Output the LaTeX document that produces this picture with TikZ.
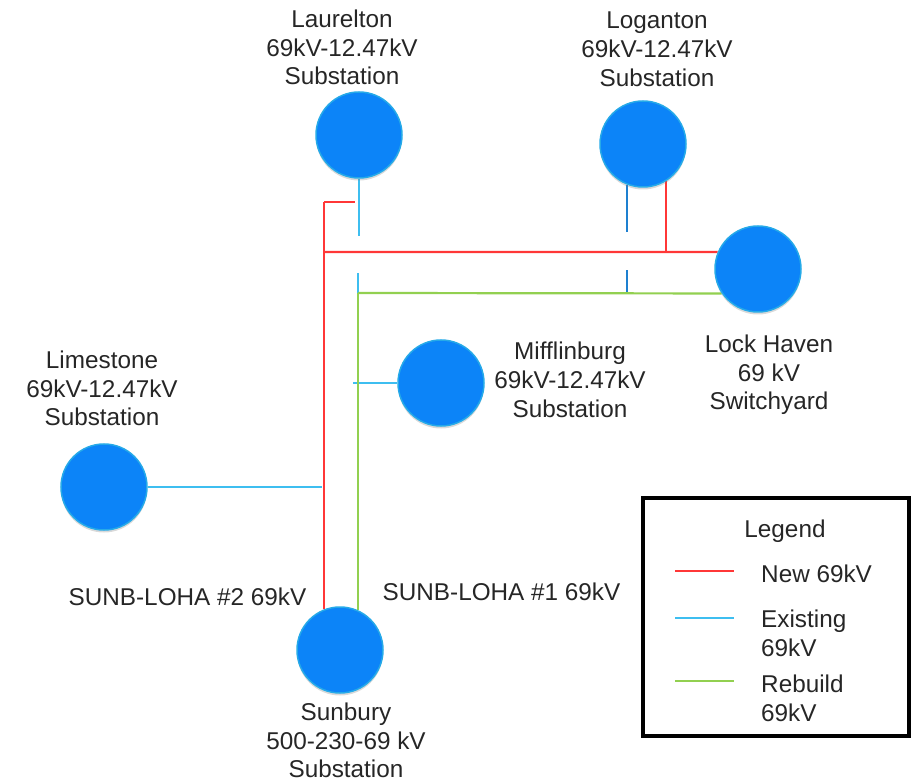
\documentclass[tikz,border=0pt]{standalone}
\usepackage{fontspec}
\setmainfont{Liberation Sans}
\usetikzlibrary{backgrounds,shadows}

\definecolor{subfill}{RGB}{12,132,248}
\definecolor{subedge}{RGB}{38,170,232}
\definecolor{newred}{RGB}{255,55,55}
\definecolor{oldblue}{RGB}{62,190,240}
\definecolor{olddark}{RGB}{30,128,208}
\definecolor{rebuildgreen}{RGB}{146,208,80}
\definecolor{labelgray}{RGB}{38,38,38}

\begin{document}
\begin{tikzpicture}[x=1pt, y=-1pt,
    every node/.style={inner sep=0pt, text=labelgray,
      font=\fontsize{24.3}{28.8}\selectfont},
    sub/.style={circle, minimum size=86pt, fill=subfill, draw=subedge,
      line width=1.5pt,
      drop shadow={shadow xshift=0pt, shadow yshift=-2.5pt, opacity=0.3}},
    sublabel/.style={align=center, anchor=north},
    newline/.style={draw=newred, line width=2.2pt},
    oldline/.style={draw=oldblue, line width=2.2pt},
    rebuildline/.style={draw=rebuildgreen, line width=2.2pt}]
  \useasboundingbox (0,0) rectangle (913,783);

  % substations
  \node[sub] (laur)  at (359,135) {};
  \node[sub] (logan) at (643,144) {};
  \node[sub] (lock)  at (758,269) {};
  \node[sub] (miff)  at (441,383) {};
  \node[sub] (lime)  at (104,487) {};
  \node[sub] (sun)   at (340,650) {};

  % junction points
  \coordinate (rtop) at (324,202);
  \coordinate (rj)   at (324,252);
  \coordinate (gj)   at (358,293);
  \coordinate (lgj)  at (627,293);

  \begin{scope}[on background layer]
    % new 69kV
    \draw[newline] (rtop) -- ++(31,0);
    \draw[newline] (rtop) -- (rtop |- sun.112);
    \draw[newline] (rj) -- (lock.157);
    \draw[newline] (logan.-58) -- (logan.-58 |- rj);
    % existing 69kV
    \draw[oldline] (laur.south) -- ++(0,57);
    \draw[oldline] (gj) -- ++(0,-20);
    \draw[oldline] (miff.west) -- ++(-44,0);
    \draw[oldline] (lime.east) -- ++(174,0);
    \draw[oldline, draw=olddark] (logan.248) -- ++(0,47);
    \draw[oldline, draw=olddark] (lgj) -- ++(0,-23);
    % rebuild 69kV
    \draw[rebuildline] (gj) -- (lock.214);
    \draw[rebuildline] (gj) -- (gj |- sun.65);
  \end{scope}

  % labels
  \node[sublabel] (laurtxt)  at (342,9.5)   {Laurelton\\69kV-12.47kV\\Substation};
  \node[sublabel] (logantxt) at (657,11.5)  {Loganton\\69kV-12.47kV\\Substation};
  \node[sublabel] (locktxt)  at (769,334.5) {Lock Haven\\69 kV\\Switchyard};
  \node[sublabel] (mifftxt)  at (570,342)   {Mifflinburg\\69kV-12.47kV\\Substation};
  \node[sublabel] (limetxt)  at (102,350.5) {Limestone\\69kV-12.47kV\\Substation};
  \node[sublabel] (suntxt)   at (346,702.5) {Sunbury\\500-230-69 kV\\Substation};
  \node[anchor=base] (line2) at (187.5,605) {SUNB-LOHA \#2 69kV};
  \node[anchor=base] (line1) at (501.5,600) {SUNB-LOHA \#1 69kV};

  % legend
  \node[draw=black, line width=3.5pt, minimum width=266pt, minimum height=238pt]
    (legend) at (776,617) {};
  \node[anchor=base] (legtitle) at (785,537) {Legend};
  \draw[newline]     (675,571) -- (734,571);
  \draw[oldline]     (675,618) -- (734,618);
  \draw[rebuildline] (675,681) -- (734,681);
  \node[anchor=north west] (legnew) at (761,564.5) {New 69kV};
  \node[anchor=north west, align=left] (legold) at (761,609.5) {Existing\\69kV};
  \node[anchor=north west, align=left] (legreb) at (761,674.5) {Rebuild\\69kV};
\end{tikzpicture}
\end{document}
